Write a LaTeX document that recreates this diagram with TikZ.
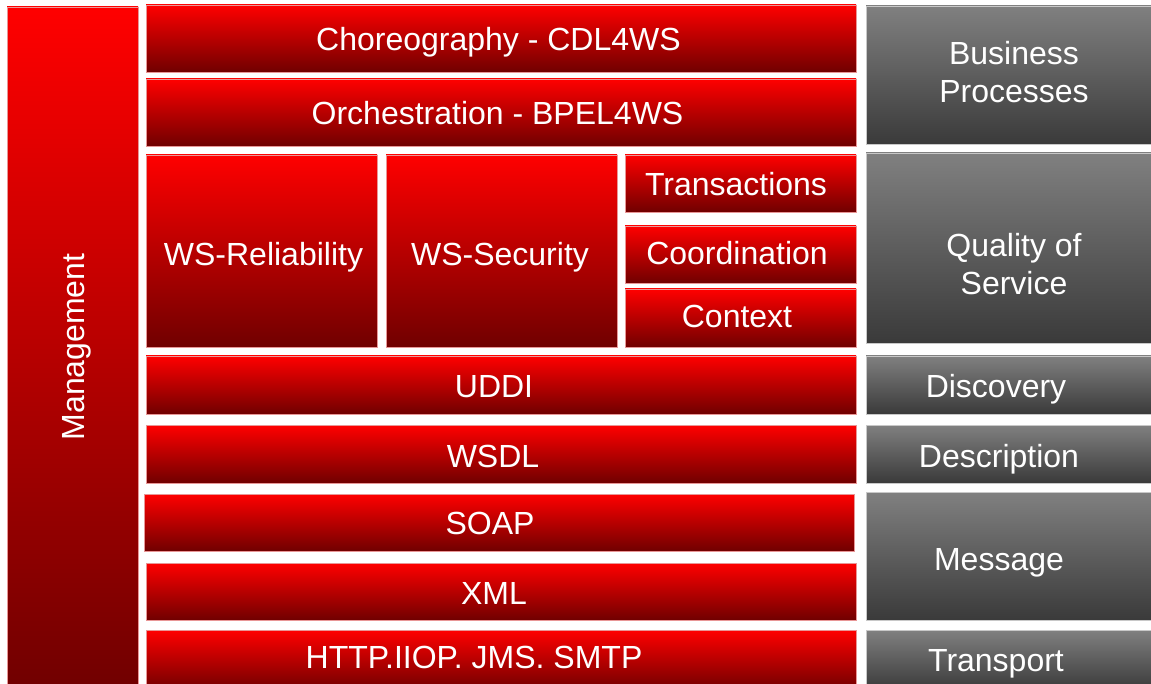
\documentclass[tikz,border=0pt]{standalone}
\usepackage{fontspec}
\setmainfont{Liberation Sans}
\begin{document}
\begin{tikzpicture}[x=1pt,y=-1pt,
  redbox/.style={rectangle, anchor=north west, inner sep=0pt, outer sep=0pt,
    top color=redtop, bottom color=redbot, draw=redline, line width=0.7pt},
  greybox/.style={rectangle, anchor=north west, inner sep=0pt, outer sep=0pt,
    top color=greytop, bottom color=greybot, draw=greyline, line width=0.7pt},
  lbl/.style={text=white, font=\fontsize{32}{37.3}\selectfont, inner sep=0pt, anchor=base},
  lbl2/.style={text=white, font=\fontsize{32}{37.3}\selectfont, inner sep=0pt, align=center, anchor=center}]
\definecolor{redtop}{RGB}{255,0,0}
\definecolor{redbot}{RGB}{112,0,0}
\definecolor{redline}{RGB}{232,150,150}
\definecolor{greytop}{RGB}{128,128,128}
\definecolor{greybot}{RGB}{58,58,58}
\definecolor{greyline}{RGB}{200,200,200}
\newcommand{\layerbox}[6]{% style, name, x1, y1, x2, y2
  \node[#1, minimum width={(#5-#3)*1pt}, minimum height={(#6-#4)*1pt}] (#2) at (#3,#4) {};}
\useasboundingbox (0,0) rectangle (1151,684);
\clip (0,0) rectangle (1151,684);
\fill[white] (0,0) rectangle (1151,684);

% management column
\layerbox{redbox}{mgmt}{7}{7}{138}{690}

% stack of red layers
\layerbox{redbox}{chor}{146}{5}{856}{72}
\layerbox{redbox}{orch}{146}{79}{856}{146}
\layerbox{redbox}{rel}{146}{155}{377}{347}
\layerbox{redbox}{sec}{386}{155}{617}{347}
\layerbox{redbox}{trans}{625}{155}{856}{212}
\layerbox{redbox}{coord}{625}{226}{856}{283}
\layerbox{redbox}{ctx}{625}{289}{856}{347}
\layerbox{redbox}{uddi}{146}{356}{856}{414}
\layerbox{redbox}{wsdl}{146}{425}{856}{483}
\layerbox{redbox}{soap}{144}{494}{854}{551}
\layerbox{redbox}{xml}{146}{563}{856}{620}
\layerbox{redbox}{http}{146}{630}{856}{690}

% grey category column
\layerbox{greybox}{bp}{866}{6}{1156}{144}
\layerbox{greybox}{qos}{866}{153}{1156}{343}
\layerbox{greybox}{disc}{866}{356}{1156}{414}
\layerbox{greybox}{desc}{866}{425}{1156}{483}
\layerbox{greybox}{msg}{866}{492}{1156}{620}
\layerbox{greybox}{tran}{866}{630}{1156}{690}

% labels
\node[lbl, rotate=90] (tmgmt) at (84,347) {Management};
\node[lbl] (tchor) at (498.5,51) {Choreography - CDL4WS};
\node[lbl] (torch) at (497.5,125) {Orchestration - BPEL4WS};
\node[lbl] (trel) at (263.5,266) {WS-Reliability};
\node[lbl] (tsec) at (500,266) {WS-Security};
\node[lbl] (ttrans) at (736,196) {Transactions};
\node[lbl] (tcoord) at (737,265) {Coordination};
\node[lbl] (tctx) at (737,328) {Context};
\node[lbl] (tuddi) at (494,397) {UDDI};
\node[lbl] (twsdl) at (493,467) {WSDL};
\node[lbl] (tsoap) at (490,534) {SOAP};
\node[lbl] (txml) at (494,604) {XML};
\node[lbl] (thttp) at (474,668) {HTTP.IIOP. JMS. SMTP};
\node[lbl2] (tbp) at (1014,72) {Business\\Processes};
\node[lbl2] (tqos) at (1014,264) {Quality of\\Service};
\node[lbl] (tdisc) at (996,397) {Discovery};
\node[lbl] (tdesc) at (999,467) {Description};
\node[lbl] (tmsg) at (999,570) {Message};
\node[lbl] (ttran) at (996,671) {Transport};
\end{tikzpicture}
\end{document}
